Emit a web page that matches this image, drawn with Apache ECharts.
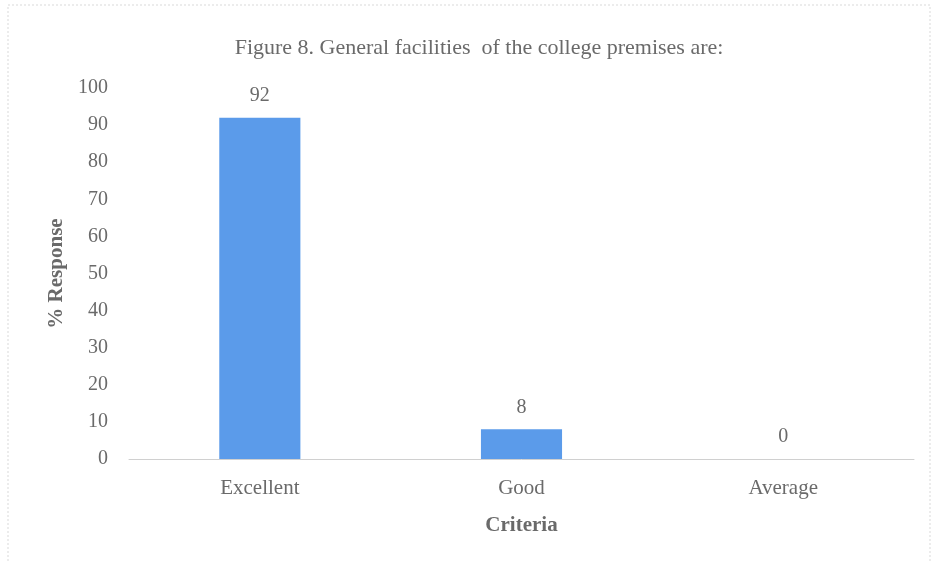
<!DOCTYPE html>
<html><head><meta charset="utf-8">
<script src="https://cdn.jsdelivr.net/npm/echarts@6/dist/echarts.min.js"></script>
<style>html,body{margin:0;padding:0;background:#fff}#c{width:932px;height:562px}</style>
</head><body><div id="c"></div>
<script>
const categories = ["Excellent", "Good", "Average"];
const responses = [92, 8, 0];
const yTicks = [0, 100, 10];
const titleText = "Figure 8. General facilities  of the college premises are:";
const xName = "Criteria";
const yName = "% Response";

const serif = "'Liberation Serif', 'DejaVu Serif', serif";
const chart = echarts.init(document.getElementById('c'));
chart.setOption({
  backgroundColor: '#ffffff',
  animation: false,
  graphic: [{
    type: 'rect', shape: {x: 8, y: 5, width: 922, height: 560},
    style: {fill: 'none', stroke: '#d9d9d9', lineWidth: 1, lineDash: [2, 2]}, silent: true
  }],
  title: {
    text: titleText, left: 474, top: 32, textAlign: 'center',
    textStyle: {fontFamily: serif, fontSize: 22, fontWeight: 'normal', color: '#6a6a6a'}
  },
  grid: {left: 129, right: 18, top: 88, bottom: 103},
  xAxis: {
    type: 'category', data: categories,
    name: xName, nameLocation: 'middle', nameGap: 56,
    nameTextStyle: {fontFamily: serif, fontSize: 21, fontWeight: 'bold', color: '#6a6a6a'},
    axisLine: {show: true, lineStyle: {color: '#d0d0d0', width: 1}},
    axisTick: {show: false},
    axisLabel: {fontFamily: serif, fontSize: 21, color: '#6a6a6a', margin: 19}
  },
  yAxis: {
    type: 'value', min: yTicks[0], max: yTicks[1], interval: yTicks[2],
    name: yName, nameLocation: 'middle', nameGap: 60, nameRotate: 90,
    nameTextStyle: {fontFamily: serif, fontSize: 21, fontWeight: 'bold', color: '#6a6a6a'},
    axisLine: {show: false}, axisTick: {show: false},
    axisLabel: {fontFamily: serif, fontSize: 20, color: '#6a6a6a', margin: 21},
    splitLine: {show: false}
  },
  series: [{
    type: 'bar', data: responses, barWidth: '31%',
    itemStyle: {color: '#5b9bea'},
    label: {show: true, position: 'top', distance: 12, fontFamily: serif, fontSize: 20, color: '#6a6a6a'}
  }]
});
</script></body></html>
